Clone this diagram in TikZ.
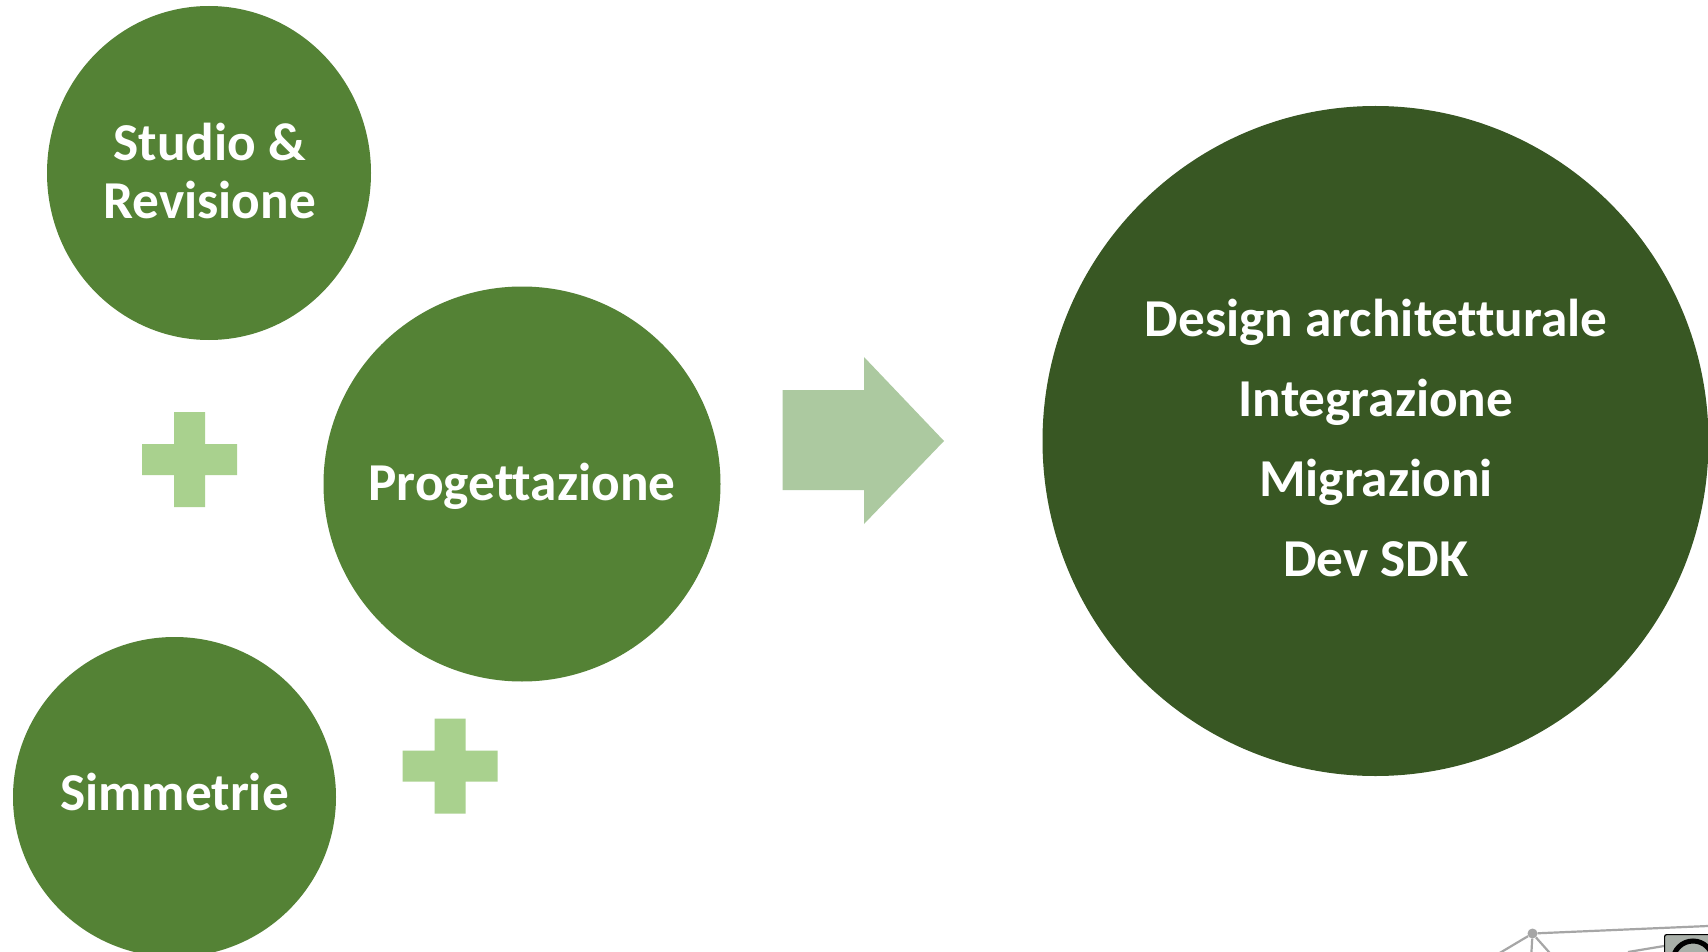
\documentclass[tikz,border=0pt]{standalone}
\usepackage{fontspec}
\setmainfont{Carlito}[Ligatures=NoCommon]
\usetikzlibrary{shapes.geometric}
\definecolor{midgreen}{HTML}{548235}
\definecolor{darkgreen}{HTML}{385723}
\definecolor{lightgreen}{HTML}{A9D18E}
\definecolor{arrowgreen}{HTML}{ACC9A0}
\definecolor{meshgray}{HTML}{A6A6A6}
\definecolor{boxgray}{HTML}{A9B0A9}
\tikzset{
 bubble/.style={ellipse, fill=midgreen, inner sep=0},
 caption/.style={text=white, inner sep=0, align=center, font=\bfseries\fontsize{53.3}{58}\selectfont},
 bigcaption/.style={caption, font=\bfseries\fontsize{53.3}{80}\selectfont},
 mesh/.style={meshgray, line width=2.2},
 meshdot/.style={circle, fill=meshgray, inner sep=0, minimum size=10}
}
\begin{document}
\begin{tikzpicture}[x=1pt,y=-1pt]
\useasboundingbox (0,0) rectangle (1708,952);
\clip (0,0) rectangle (1708,952);
\fill[white] (0,0) rectangle (1708,952);
\node[bubble, minimum width=324, minimum height=334] (studio) at (209,173) {};
\node[bubble, minimum width=397, minimum height=395] (prog) at (522,484) {};
\node[bubble, minimum width=323, minimum height=320] (simm) at (174.5,797) {};
\node[bubble, fill=darkgreen, minimum width=666, minimum height=670] (result) at (1375.5,441) {};
\node[caption] (studiotext) at (209.5,171) {Studio \&\\Revisione};
\node[caption] (progtext) at (522,486) {Progettazione};
\node[caption] (simmtext) at (174.5,792) {Simmetrie};
\node[bigcaption] (resulttext) at (1376,438) {Design architetturale\\Integrazione\\Migrazioni\\Dev SDK};
\foreach \x/\y in {189.5/459.5, 450/766} {
 \fill[lightgreen] (\x-15.5,\y-47.5) --++(31,0) --++(0,32) --++(32,0) --++(0,31) --++(-32,0) --++(0,32) --++(-31,0) --++(0,-32) --++(-32,0) --++(0,-31) --++(32,0) -- cycle;
}
\fill[arrowgreen] (782.5,390) -- (864,390) -- (864,357) -- (944,441) -- (864,524) -- (864,490) -- (782.5,490) -- cycle;
% corner
\node[meshdot] (hub) at (1532.5,933.5) {};
\coordinate (m1) at (1708,926);
\coordinate (m2) at (1498,954);
\coordinate (m3) at (1531,960);
\coordinate (m4) at (1556,960);
\coordinate (m5) at (1628,952);
\coordinate (m6) at (1664,946);
\foreach \p in {m1,m2,m3,m4} {
 \draw[mesh] (hub) -- (\p);
}
\draw[mesh] (m5) -- (m6);
\node[draw=black, fill=boxgray, line width=1.2, rounded corners=2, minimum width=60, minimum height=40, anchor=north west, inner sep=0] (badge) at (1664,934) {};
\draw[black, line width=5] (1693,961) circle (20);
\end{tikzpicture}
\end{document}
